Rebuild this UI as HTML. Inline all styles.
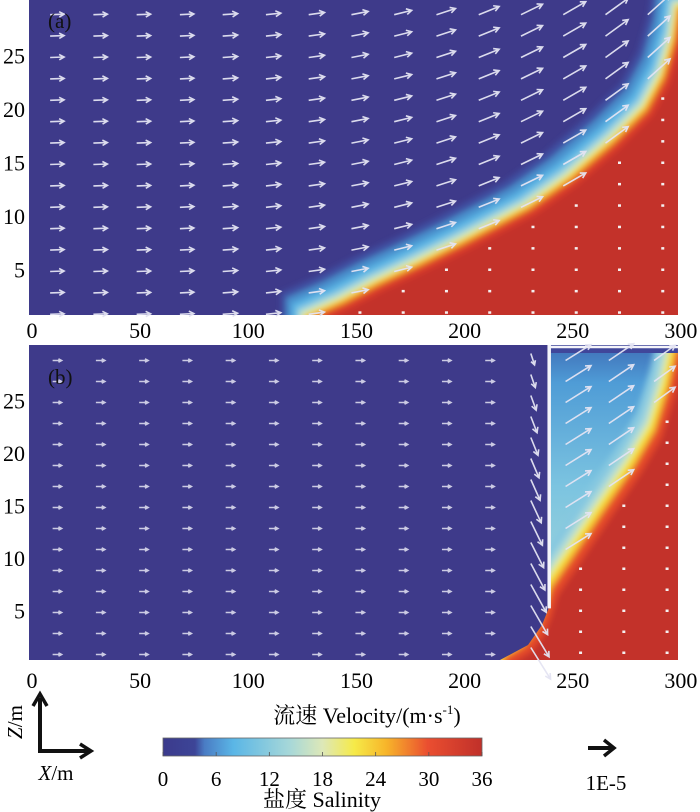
<!DOCTYPE html>
<html><head><meta charset="utf-8"><style>
html,body{margin:0;padding:0;background:#fff;}
svg{display:block;font-family:"Liberation Serif","Noto Serif CJK SC",serif;}
</style></head><body>
<svg id="fig" width="700" height="812" viewBox="0 0 700 812" xmlns="http://www.w3.org/2000/svg">
<defs>
<filter id="blur" x="-5%" y="-5%" width="110%" height="110%"><feGaussianBlur stdDeviation="3"/></filter>
<clipPath id="clipA"><rect x="29" y="0" width="649" height="315"/></clipPath>
<clipPath id="clipB"><polygon points="29,660 500,660 528,645 542,625 550,605 550,345 678,345 678,660"/></clipPath>
<linearGradient id="rightGrad" x1="0" y1="0" x2="0" y2="1">
<stop offset="0" stop-color="#3f6fb8"/><stop offset="0.12" stop-color="#4f9cd6"/><stop offset="0.45" stop-color="#7cc4e0"/><stop offset="1" stop-color="#b6dfd6"/>
</linearGradient>
<linearGradient id="cbGrad" x1="0" y1="0" x2="1" y2="0">
<stop offset="0" stop-color="#3b3a8c"/><stop offset="0.1" stop-color="#3d4597"/><stop offset="0.13" stop-color="#4a7cc4"/><stop offset="0.22" stop-color="#5ab6e6"/><stop offset="0.4" stop-color="#a8d8d8"/><stop offset="0.5" stop-color="#dde8b8"/><stop offset="0.6" stop-color="#f6ea48"/><stop offset="0.7" stop-color="#f7b52a"/><stop offset="0.83" stop-color="#ea4e30"/><stop offset="1" stop-color="#c0302a"/>
</linearGradient>
</defs>
<g id="panelA"></g>
<g id="panelB"></g>
<g id="axes"></g>

<g>
<line x1="40" y1="751" x2="40" y2="698" stroke="#111" stroke-width="4"/>
<polyline points="33,706 40,694 47,706" fill="none" stroke="#111" stroke-width="3.5"/>
<line x1="38" y1="751" x2="88" y2="751" stroke="#111" stroke-width="4"/>
<polyline points="80,744 91,751 80,758" fill="none" stroke="#111" stroke-width="3.5"/>
<text x="22" y="722" font-size="21" text-anchor="middle" transform="rotate(-90 22 722)"><tspan font-style="italic">Z</tspan>/m</text>
<text x="56" y="780" font-size="21" text-anchor="middle"><tspan font-style="italic">X</tspan>/m</text>
</g>
<text x="367" y="723" font-size="22" text-anchor="middle">流速 Velocity/(m·s<tspan dy="-9" font-size="13">-1</tspan><tspan dy="9">)</tspan></text>
<rect x="163" y="738" width="319" height="18" fill="url(#cbGrad)" stroke="#666" stroke-width="0.8"/>
<g id="cbticks"></g>
<text x="322" y="807" font-size="22" text-anchor="middle">盐度 Salinity</text>
<g>
<line x1="588" y1="748" x2="612" y2="748" stroke="#111" stroke-width="4"/>
<polyline points="604,740 614,748 604,756" fill="none" stroke="#111" stroke-width="3.5"/>
<text x="606" y="790" font-size="21" text-anchor="middle">1E-5</text>
</g>
</svg>
<script>
const xTicks=[0,50,100,150,200,250,300];
const zTicks=[5,10,15,20,25];
const cbTicks=[0,6,12,18,24,30,36];
// interface (salinity front) points [x, z]
const ifaceAx=[128,145,161,180,200,231,250,270,285,293,298,300];
const ifaceAz=[0.5,2.0,3.7,5.5,7.5,10.8,13.5,17,20,23,26.5,29.5];
const ifaceBx=[220,229,235,239,242,252,265,280,290,296,300];
const ifaceBz=[0.4,1.5,3,5,7,10,14,18.5,22,26,29.8];
// arrow columns and rows
const colsA=[13,33,53,73,93,113,133,153,173,193,213,233,253,273,293];
const rowsZ=[29,27,25,23,21,19,17,15,13,11,9,7,5,3,1];
const angA=[2,2,2,3,4,6,8,11,14,18,22,26,30,36,42];
const lenA=[14,14,14,14,15,15,16,17,18,20,22,24,26,28,30];
const colsB=[13,33,53,73,93,113,133,153,173,193,213,232,255,275,295];
const angB=[0,0,0,0,0,0,0,0,0,0,0,-70,32,34,36];
const lenB=[9,9,9,9,9,9,9,9,9,9,9,14,30,30,26];

const NS="http://www.w3.org/2000/svg";
const X=x=>29+x*2.163;
const ZA=z=>323-z*10.7;
const ZB=z=>663-z*10.5;
function mk(tag,attrs,parent){const e=document.createElementNS(NS,tag);for(const k in attrs)e.setAttribute(k,attrs[k]);parent.appendChild(e);return e;}
function interp(xs,zs,x){
  if(x<=xs[0])return -1; if(x>=xs[xs.length-1])return 99;
  for(let i=1;i<xs.length;i++){if(x<=xs[i]){const t=(x-xs[i-1])/(xs[i]-xs[i-1]||1);return zs[i-1]+t*(zs[i]-zs[i-1]);}}
  return 99;}
const layersA=[[36,"#3f50a2"],[28,"#4a8fcc"],[20,"#5ab4e4"],[13,"#9ad2e0"],[8,"#d0e6bc"],[4,"#f4e43c"],[1,"#f29a2c"],[-3,"#dc3e2c"],[-10,"#c3302a"]];
const layersB=[[28,"#86c8e0"],[20,"#a8d8da"],[14,"#d8e8b0"],[10,"#f4e43c"],[5,"#f5b030"],[1,"#e4482c"],[-8,"#c3302a"]];

function field(g,xs,zs,Z,bottomY,clip,layers){
  const lg=mk('g',{'clip-path':'url(#'+clip+')'},g);
  const fg=mk('g',{filter:'url(#blur)'},lg);
  layers.forEach(([d,c])=>{
    let pts=xs.map((x,i)=>(X(x)-d*0.7)+','+(Z(zs[i])-d*0.7));
    pts.push((X(300)+20)+','+(Z(zs[zs.length-1])-d));
    pts.push((X(300)+20)+','+(bottomY+20));
    pts.push((X(xs[0])-d*0.7)+','+(bottomY+20));
    const p=mk('polygon',{points:pts.join(' '),fill:c},fg);
    
    
  });
}
function arrow(g,x,y,ang,len,op){
  const a=ang*Math.PI/180;const x2=x+len*Math.cos(a),y2=y-len*Math.sin(a);
  const h=Math.min(6,len*0.4);
  const b1=a+Math.PI-0.5,b2=a+Math.PI+0.5;
  const p=mk('path',{d:`M${x},${y}L${x2},${y2}M${x2+h*Math.cos(b1)},${y2-h*Math.sin(b1)}L${x2},${y2}L${x2+h*Math.cos(b2)},${y2-h*Math.sin(b2)}`,stroke:'#e4e4f2','stroke-width':1.6,fill:'none','stroke-opacity':op},g);
  
  
}
function dot(g,x,y){const d=mk('rect',{x:x-1.5,y:y-1,width:3,height:2.5,fill:'#f4f0f0'},g);
  
  }

// Panel A
const gA=document.getElementById('panelA');
mk('rect',{x:29,y:0,width:649,height:315,fill:'#3e3a8a'},gA);
field(gA,ifaceAx,ifaceAz,ZA,315,'clipA',layersA);
colsA.forEach((cx,i)=>rowsZ.forEach(z=>{
  const zi=interp(ifaceAx,ifaceAz,cx);
  const x=X(cx)-lenA[i]/2,y=ZA(z)+2;
  if(z<zi-1.2)dot(gA,X(cx),ZA(z));
  else arrow(gA,x,y,angA[i],lenA[i],0.95);
}));
mk('text',{x:48,y:28,'font-size':21,fill:'#111'},gA).textContent='(a)';

// Panel B
const gB=document.getElementById('panelB');
mk('rect',{x:29,y:345,width:649,height:315,fill:'#3e3a8a'},gB);
mk('rect',{x:X(241),y:345,width:X(300)-X(241),height:315,fill:'url(#rightGrad)'},gB);
field(gB,ifaceBx,ifaceBz,ZB,660,'clipB',layersB);
mk('rect',{x:X(241),y:345,width:X(300)-X(241),height:8,fill:'#40469a'},gB);
mk('line',{x1:X(241),y1:347,x2:678,y2:347,stroke:'#f4f4fa','stroke-width':2.5},gB);
mk('line',{x1:X(240.5),y1:345,x2:X(240.5),y2:ZB(5.2),stroke:'#f4f4fa','stroke-width':3.5},gB);
colsB.forEach((cx,i)=>rowsZ.forEach(z=>{
  const zi=interp(ifaceBx,ifaceBz,cx);
  let ang=angB[i],len=lenB[i];
  if(i===11){ang=-72+(29-z)*0.5;len=12+(29-z)*0.9;}
  if(cx>241 && z<zi-1.2){dot(gB,X(cx),ZB(z));return;}
  const x=X(cx)-(i===11?0:len/2),y=ZB(z)+(i===11?-5:2);
  arrow(gB,x,y,ang,len,i<11?0.85:0.95);
}));
mk('text',{x:48,y:384,'font-size':21,fill:'#111'},gB).textContent='(b)';

// Axes
const ax=document.getElementById('axes');
[338,688].forEach(yy=>xTicks.forEach(t=>{
  const e=mk('text',{x:X(t)+3,y:yy,'font-size':22,'text-anchor':'middle'},ax);
  e.textContent=t;
  
  
}));
zTicks.forEach(t=>{
  [ZA,ZB].forEach(Z=>{
    const e=mk('text',{x:25,y:Z(t)+8,'font-size':22,'text-anchor':'end'},ax);
    e.textContent=t;
    
    
  });
});
const cb=document.getElementById('cbticks');
cbTicks.forEach(t=>{
  const x=163+t/36*319;
  mk('line',{x1:x,y1:752,x2:x,y2:756,stroke:'#555','stroke-width':0.8},cb);
  const e=mk('text',{x:x,y:786,'font-size':21,'text-anchor':'middle'},cb);
  e.textContent=t;
  
  
});
</script>
</body></html>
